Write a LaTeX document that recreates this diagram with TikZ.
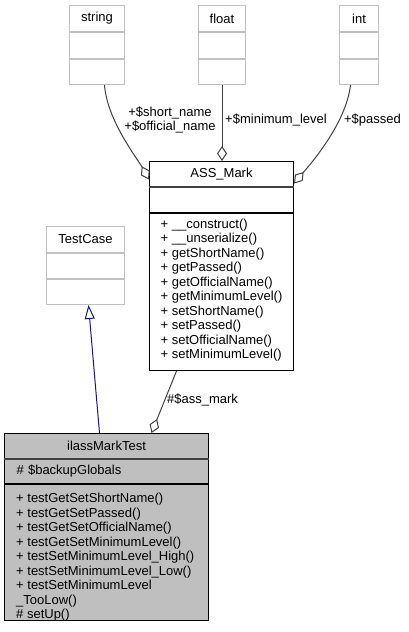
\documentclass[tikz,border=0pt]{standalone}
\usepackage{fontspec}
\setmainfont{Liberation Sans}
\usetikzlibrary{positioning,arrows.meta,calc}
\definecolor{edgegray}{HTML}{404040}
\definecolor{boxgray}{HTML}{BFBFBF}
\definecolor{framegray}{HTML}{C0C0C0}
\definecolor{navyblue}{HTML}{191970}

\begin{document}
\begin{tikzpicture}[x=1pt, y=-1pt, font=\fontsize{13}{14.5}\selectfont,
    box/.style={draw, line width=1pt, inner sep=0pt, anchor=north west},
    graybox/.style={box, draw=framegray},
    focusbox/.style={box, fill=boxgray},
    optext/.style={align=left, inner sep=0pt},
    titlesep/.style={line width=1.6pt, draw=edgegray},
    edgelabel/.style={inner sep=0pt},
    aggr/.style={draw=edgegray, line width=1pt, -{Diamond[open, length=15pt, width=10pt]}},
    inherit/.style={draw=navyblue, line width=1pt, -{Triangle[open, length=14pt, width=10pt]}}]
  \useasboundingbox (0,0) rectangle (408,632);

  % member types
  \node[graybox, minimum width=55pt, minimum height=26pt] (stringtitle) at (69,5) {string};
  \node[graybox, minimum width=55pt, minimum height=26pt] (stringattr) at (stringtitle.south west) {};
  \node[graybox, minimum width=55pt, minimum height=25pt] (stringops) at (stringattr.south west) {};

  \node[graybox, minimum width=47pt, minimum height=26pt] (floattitle) at (198,5) {float};
  \node[graybox, minimum width=47pt, minimum height=26pt] (floatattr) at (floattitle.south west) {};
  \node[graybox, minimum width=47pt, minimum height=25pt] (floatops) at (floatattr.south west) {};

  \node[graybox, minimum width=39pt, minimum height=26pt] (inttitle) at (339,5) {int};
  \node[graybox, minimum width=39pt, minimum height=26pt] (intattr) at (inttitle.south west) {};
  \node[graybox, minimum width=39pt, minimum height=25pt] (intops) at (intattr.south west) {};

  % ASS_Mark
  \node[box, minimum width=144pt, minimum height=25pt] (marktitle) at (149,161) {ASS\_Mark};
  \node[box, minimum width=144pt, minimum height=25pt] (markattr) at (marktitle.south west) {};
  \node[box, minimum width=144pt, minimum height=157pt] (markops) at (markattr.south west) {};
  \draw[titlesep] (marktitle.south west) -- (marktitle.south east);
  \node[optext, below right=5.5pt and 11.5pt of markops.north west] (markopstext) {%
    + \_\_construct()\\
    + \_\_unserialize()\\
    + getShortName()\\
    + getPassed()\\
    + getOfficialName()\\
    + getMinimumLevel()\\
    + setShortName()\\
    + setPassed()\\
    + setOfficialName()\\
    + setMinimumLevel()};

  % TestCase
  \node[graybox, minimum width=78pt, minimum height=26pt] (testtitle) at (46,226) {TestCase};
  \node[graybox, minimum width=78pt, minimum height=25pt] (testattr) at (testtitle.south west) {};
  \node[graybox, minimum width=78pt, minimum height=25pt] (testops) at (testattr.south west) {};

  % ilassMarkTest
  \node[focusbox, minimum width=204pt, minimum height=25pt] (ilasstitle) at (4,433) {ilassMarkTest};
  \node[focusbox, minimum height=24pt, text width=180pt, inner xsep=12pt, align=left] (ilassattr) at (ilasstitle.south west) {\# \$backupGlobals};
  \node[focusbox, minimum width=204pt, minimum height=136pt] (ilassops) at (ilassattr.south west) {};
  \draw[titlesep] (ilasstitle.south west) -- (ilasstitle.south east);
  \node[optext, below right=9pt and 12pt of ilassops.north west] (ilassopstext) {%
    + testGetSetShortName()\\
    + testGetSetPassed()\\
    + testGetSetOfficialName()\\
    + testGetSetMinimumLevel()\\
    + testSetMinimumLevel\_High()\\
    + testSetMinimumLevel\_Low()\\
    + testSetMinimumLevel\\
    \_TooLow()\\
    \# setUp()};

  % connectors
  \draw[aggr] ([xshift=7.5pt]stringops.south) .. controls (107,120) and (137,158) .. ([yshift=-5.5pt]marktitle.west);
  \draw[aggr] (floatops.south) -- (floatops.south |- marktitle.north);
  \draw[aggr] ([xshift=-8.5pt]intops.south) .. controls (346,125) and (307,168) .. ([yshift=-9.5pt]marktitle.east);
  \draw[inherit] ([xshift=-7pt]ilasstitle.north) -- ([xshift=3pt]testops.south);
  \draw[aggr] ([xshift=-45pt]markops.south) -- ([xshift=45pt]ilasstitle.north);

  \node[edgelabel, align=center] (namelabel) at (170,120) {+\$short\_name\\+\$official\_name};
  \node[edgelabel] (levellabel) at (276,120) {+\$minimum\_level};
  \node[edgelabel] (passedlabel) at (372.5,120) {+\$passed};
  \node[edgelabel, anchor=west] (asslabel) at (167,400) {\#\$ass\_mark};
\end{tikzpicture}
\end{document}
